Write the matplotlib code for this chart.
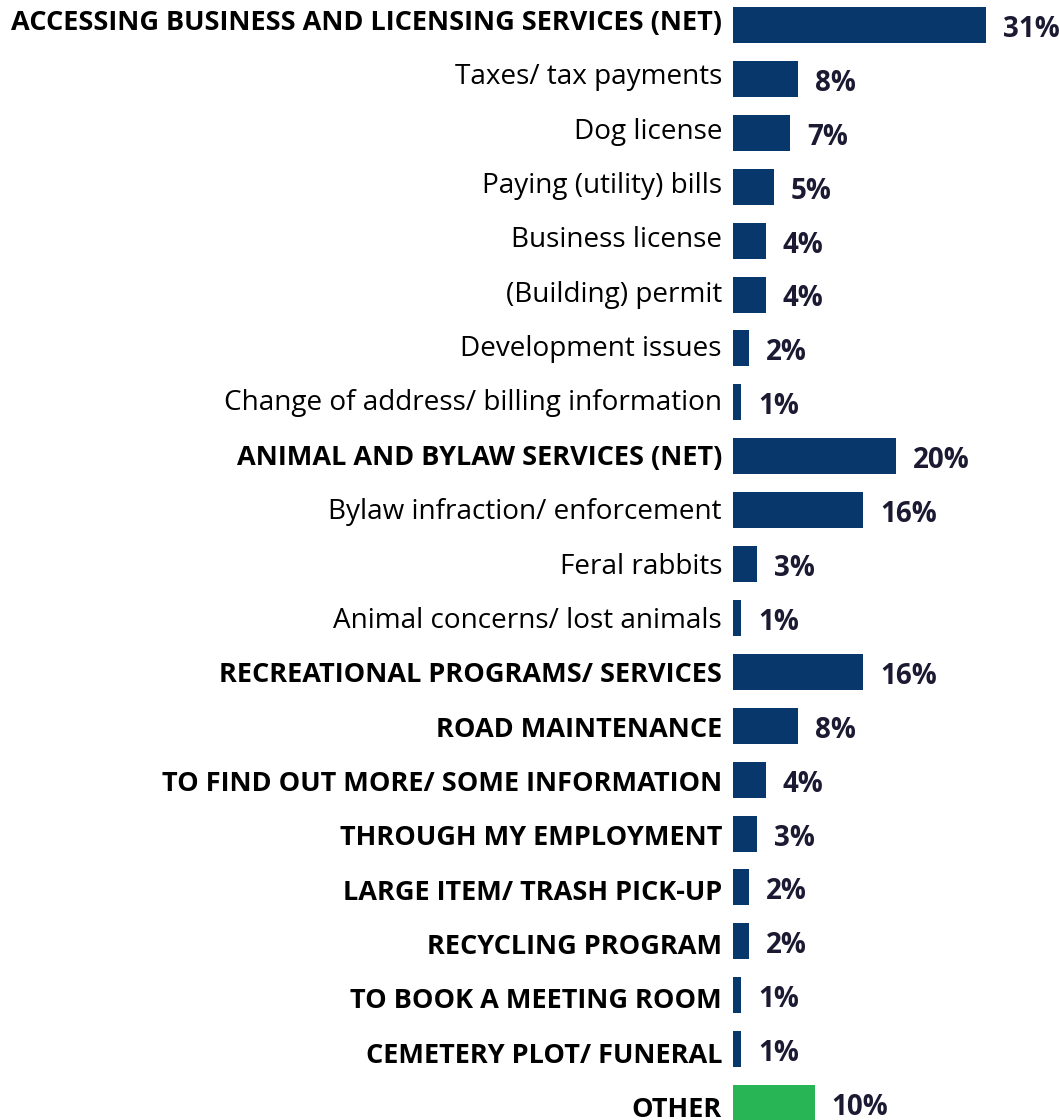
import matplotlib
matplotlib.use('Agg')
import matplotlib.pyplot as plt

# ── Données ───────────────────────────────────────────────────────────
categories = [
    "ACCESSING BUSINESS AND LICENSING SERVICES (NET)",
    "Taxes/ tax payments",
    "Dog license",
    "Paying (utility) bills",
    "Business license",
    "(Building) permit",
    "Development issues",
    "Change of address/ billing information",
    "ANIMAL AND BYLAW SERVICES (NET)",
    "Bylaw infraction/ enforcement",
    "Feral rabbits",
    "Animal concerns/ lost animals",
    "RECREATIONAL PROGRAMS/ SERVICES",
    "ROAD MAINTENANCE",
    "TO FIND OUT MORE/ SOME INFORMATION",
    "THROUGH MY EMPLOYMENT",
    "LARGE ITEM/ TRASH PICK-UP",
    "RECYCLING PROGRAM",
    "TO BOOK A MEETING ROOM",
    "CEMETERY PLOT/ FUNERAL",
    "OTHER",
]
values = [31, 8, 7, 5, 4, 4, 2, 1, 20, 16, 3, 1, 16, 8, 4, 3, 2, 2, 1, 1, 10]
# lignes en gras : NET et rubriques principales
bold_rows = [0, 8, 12, 13, 14, 15, 16, 17, 18, 19, 20]
green_rows = [20]

NAVY = '#08386b'
GREEN = '#27b556'
TXT = '#1c1a33'

plt.rcParams['font.family'] = ['Open Sans', 'DejaVu Sans']

W, H, DPI = 1059, 1120, 100
fig = plt.figure(figsize=(W / DPI, H / DPI), dpi=DPI)

# ── Axe des barres (positionné en pixels) ─────────────────────────────
x0, row0, pitch = 733, 25, 53.9
ax = fig.add_axes([x0 / W, 0, (W - x0) / W, 1])
ax.set_xlim(0, (W - x0) / 8.15)
ax.set_ylim((H - row0) / pitch, -row0 / pitch)
ax.axis('off')

# ── Axe des libellés : pas légèrement différent de celui des barres ───
lab0, lab_pitch = 30, 54.35
lab = fig.add_axes([0, 0, x0 / W, 1])
lab.set_xlim(0, 1)
lab.set_ylim((H - lab0) / lab_pitch, -lab0 / lab_pitch)
lab.axis('off')

n = len(categories)
ypos = list(range(n))
colors = [GREEN if i in green_rows else NAVY for i in ypos]
ax.barh(ypos, values, height=36 / pitch, color=colors, clip_on=True)

px = 72 / DPI  # pixels -> points
for i, (cat, v) in enumerate(zip(categories, values)):
    bold = i in bold_rows
    lab.annotate(cat, xy=(1, i), xytext=(-11 * px, 0), textcoords='offset points',
                 ha='right', va='baseline', fontsize=19.5 if bold else 20.1,
                 fontweight='bold' if bold else 'normal',
                 color='black', annotation_clip=False)
    ax.annotate(f"{v}%", xy=(v, i), xytext=(17 * px, -12 * px), textcoords='offset points',
                ha='left', va='baseline', fontsize=20, fontweight='bold',
                color=TXT, annotation_clip=False)

fig.savefig('out.png', dpi=DPI)
